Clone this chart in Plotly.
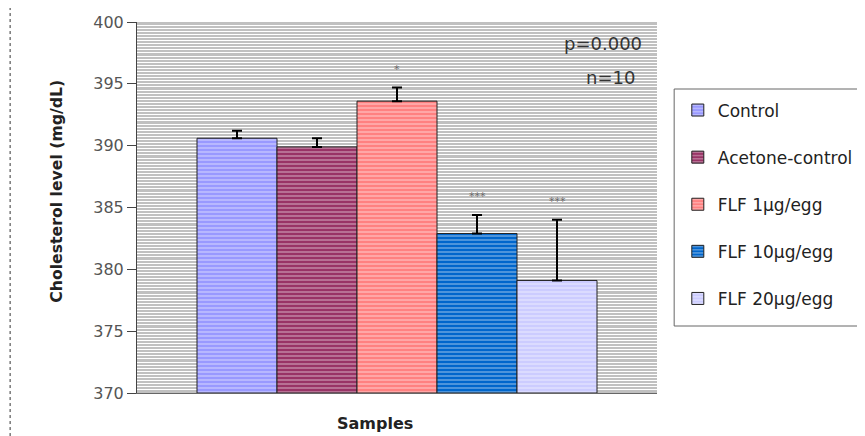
import plotly.graph_objects as go

samples = ["Control", "Acetone-control", "FLF 1µg/egg", "FLF 10µg/egg", "FLF 20µg/egg"]
values = [390.6, 389.9, 393.6, 382.9, 379.1]
errors = [0.6, 0.7, 1.1, 1.5, 4.9]
signif = ["", "", "*", "***", "***"]
y_ticks = [370, 375, 380, 385, 390, 395, 400]

colors = ["#9999FF", "#993366", "#FF8080", "#0066CC", "#CCCCFF"]
FONT = "DejaVu Sans, Liberation Sans, Arial, sans-serif"

fig = go.Figure()
for i, (name, v, e) in enumerate(zip(samples, values, errors)):
    fig.add_trace(go.Bar(
        x=[i], y=[v - 370], base=370, name=name, width=1,
        marker=dict(color=colors[i], line=dict(color="#222", width=1),
                    pattern=dict(shape="-", fgcolor="white", bgcolor=colors[i],
                                 size=4, solidity=0.3)),
        error_y=dict(type="data", symmetric=False, array=[e], arrayminus=[0],
                     color="black", thickness=2, width=5),
        legendgroup=name,
    ))
    if signif[i]:
        fig.add_annotation(x=i, y=v + e, text=signif[i], showarrow=False,
                           yshift=18, font=dict(size=11, color="#666"))

fig.add_annotation(xref="paper", yref="paper", x=0.975, y=0.943, xanchor="right",
                   yanchor="middle", text="p=0.000", showarrow=False,
                   font=dict(size=18, color="#333", family=FONT))
fig.add_annotation(xref="paper", yref="paper", x=0.962, y=0.85, xanchor="right",
                   yanchor="middle", text="n=10", showarrow=False,
                   font=dict(size=18, color="#333", family=FONT))
fig.add_annotation(xref="paper", yref="paper", x=-0.154, y=0.545, textangle=-90,
                   xanchor="center", yanchor="middle",
                   text="<b>Cholesterol level (mg/dL)</b>", showarrow=False,
                   font=dict(size=15.7, color="#222", family=FONT))
fig.add_annotation(xref="paper", yref="paper", x=0.458, y=-0.081,
                   xanchor="center", yanchor="middle",
                   text="<b>Samples</b>", showarrow=False,
                   font=dict(size=16, color="#222", family=FONT))
# dotted chart border on the left
fig.add_shape(type="line", xref="paper", yref="paper", x0=-0.244, x1=-0.244,
              y0=-0.116, y1=1.06, line=dict(color="#333", width=1, dash="dot"))
# legend frame
fig.add_shape(type="rect", xref="paper", yref="paper", x0=1.033, x1=1.45,
              y0=(393 - 326) / 371, y1=(393 - 89) / 371,
              line=dict(color="#666", width=1), fillcolor="white", layer="above")

# the page body shifts the figure by 8px, so margins compensate
fig.update_layout(
    width=865, height=436,
    margin=dict(l=129, r=216, t=14, b=51, autoexpand=False),
    paper_bgcolor="white", plot_bgcolor="#C0C0C0",
    barmode="overlay", showlegend=True,
    font=dict(family=FONT),
    xaxis=dict(range=[-1.25, 5.25], showticklabels=False, showgrid=False,
               zeroline=False, showline=True, linecolor="#666", ticks="",
               automargin=False),
    yaxis=dict(range=[370, 400], tickvals=y_ticks, ticks="outside", ticklen=9,
               tickcolor="#444", showline=True, linecolor="#444",
               tickfont=dict(size=16, color="#555"), zeroline=False,
               automargin=False,
               showgrid=True, gridcolor="white", gridwidth=1,
               minor=dict(dtick=0.25, showgrid=True, gridcolor="white", gridwidth=1)),
    legend=dict(x=1.04, y=0.81, xanchor="left", yanchor="top",
                borderwidth=0, bgcolor="rgba(0,0,0,0)",
                font=dict(size=17, color="#222"), tracegroupgap=22,
                traceorder="grouped"),
)

fig.write_html("out.html")
